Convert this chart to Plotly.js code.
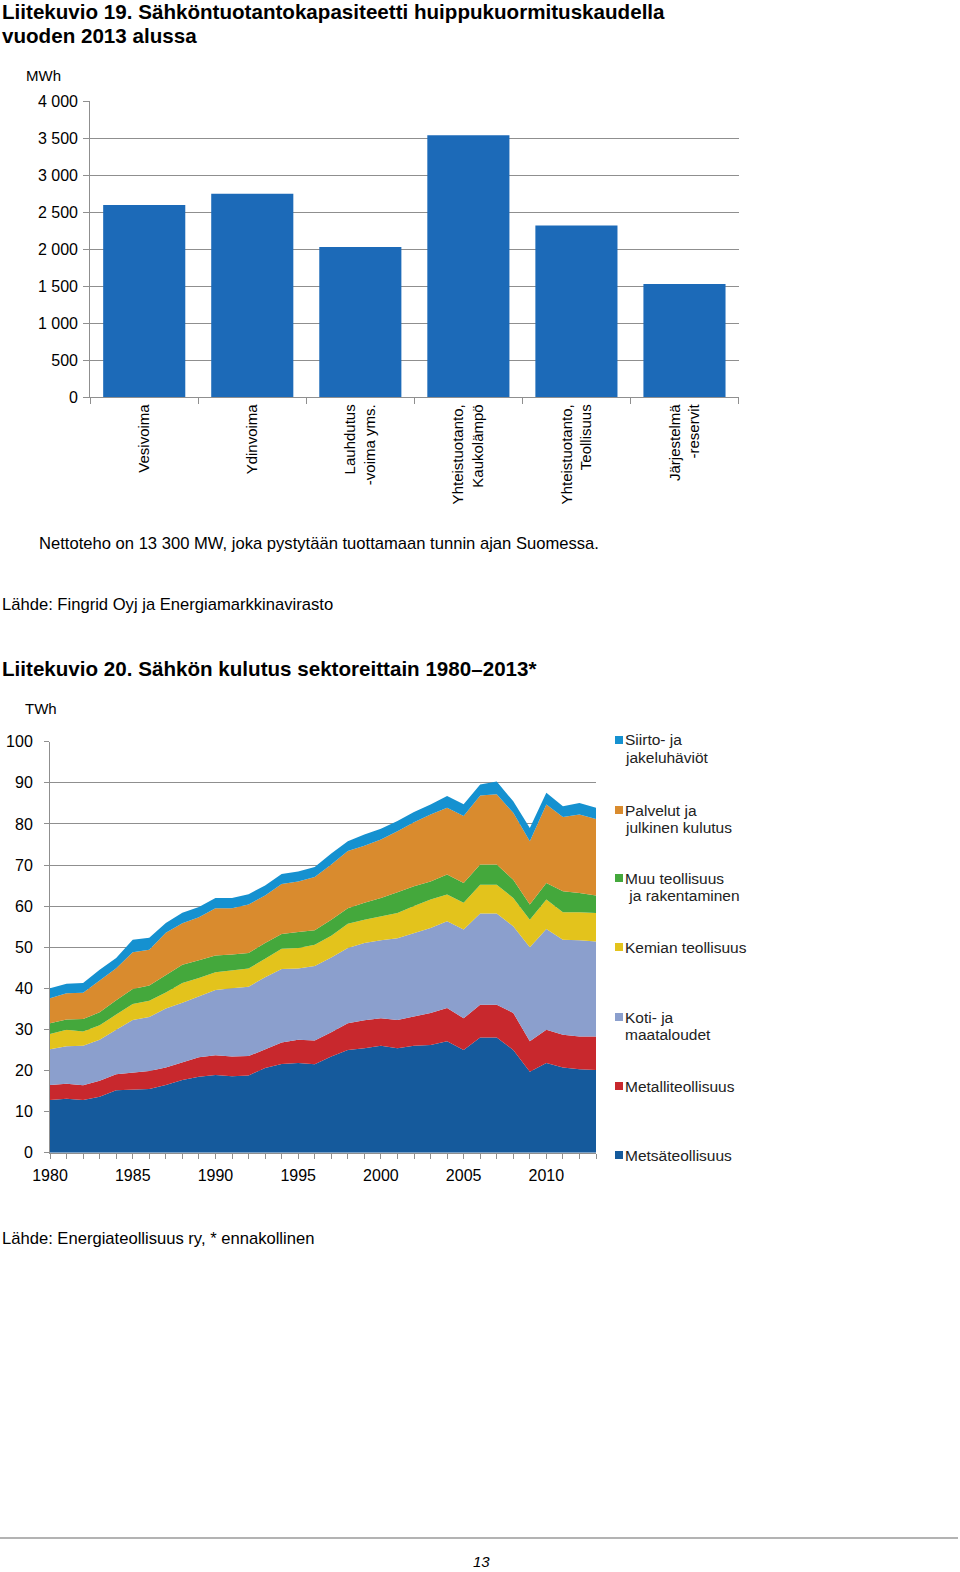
<!DOCTYPE html>
<html>
<head>
<meta charset="utf-8">
<script src="https://cdn.plot.ly/plotly-3.0.1.min.js"></script>
<style>
html,body{margin:0;padding:0;background:#fff;}
#chart{width:960px;height:1572px;}
</style>
</head>
<body>
<div id="chart"></div>
<script>
// ---------- Chart 1 data ----------
const capacityCategories = [
  "Vesivoima",
  "Ydinvoima",
  "Lauhdutus<br>-voima yms.",
  "Yhteistuotanto,<br>Kaukolämpö",
  "Yhteistuotanto,<br>Teollisuus",
  "Järjestelmä<br>-reservit"
];
const capacityValues = [2600, 2750, 2030, 3540, 2320, 1530];

// ---------- Chart 2 data (TWh) ----------
const years = [1980,1981,1982,1983,1984,1985,1986,1987,1988,1989,1990,1991,1992,1993,1994,1995,1996,
               1997,1998,1999,2000,2001,2002,2003,2004,2005,2006,2007,2008,2009,2010,2011,2012,2013];
const metsateollisuus = [12.8,13.1,12.8,13.6,15.2,15.3,15.5,16.5,17.7,18.5,18.9,18.6,18.8,20.6,21.6,21.8,21.5,
                         23.4,25.0,25.4,26.0,25.4,26.0,26.2,27.1,25.0,28.0,28.0,25.0,19.7,21.8,20.7,20.3,20.1];
const metalliteollisuus = [3.7,3.7,3.6,3.9,3.9,4.2,4.4,4.2,4.3,4.7,4.8,4.8,4.7,4.6,5.2,5.7,5.8,
                           5.9,6.5,6.8,6.7,6.9,7.1,7.8,8.1,7.7,8.0,8.0,9.0,7.4,8.1,8.0,8.0,8.2];
const kotiJaMaatalous = [8.7,9.1,9.6,10.0,10.8,12.8,13.1,14.4,14.5,14.8,15.9,16.6,16.9,17.5,17.9,17.3,18.1,
                         18.2,18.3,18.8,19.0,19.9,20.4,20.7,21.1,21.6,22.2,22.2,21.1,22.9,24.5,23.1,23.4,23.1];
const kemianteollisuus = [3.7,4.0,3.5,3.5,3.7,3.9,4.0,3.9,4.8,4.5,4.3,4.3,4.4,4.5,4.9,5.0,5.2,
                          5.3,5.9,5.7,5.8,6.1,6.5,6.9,6.5,6.5,7.0,7.0,6.9,6.7,7.2,6.7,6.8,6.9];
const muuTeollisuus = [2.6,2.5,3.0,3.2,3.5,3.6,3.7,4.1,4.4,4.3,4.1,3.9,3.8,3.8,3.6,3.9,3.5,
                       3.9,3.8,4.1,4.5,5.1,4.8,4.4,4.9,4.8,4.9,4.9,4.4,3.7,4.0,5.1,4.7,4.3];
const palvelut = [6.1,6.4,6.4,7.7,7.8,9.0,8.7,10.4,10.1,10.5,11.5,11.3,11.8,11.6,12.2,12.3,13.0,
                  13.4,13.9,13.9,14.2,14.8,15.6,16.3,16.2,16.3,16.8,17.1,16.3,15.4,19.1,18.1,19.1,18.6];
const siirtohaviot = [2.4,2.3,2.4,2.6,2.5,3.0,2.9,2.4,2.6,2.5,2.5,2.5,2.5,2.4,2.4,2.4,2.4,
                      2.7,2.4,2.7,2.6,2.5,2.5,2.4,2.9,2.9,2.7,3.1,2.8,3.2,2.9,2.6,2.8,2.7];

const seriesNames = ["Metsäteollisuus","Metalliteollisuus","Koti- ja maataloudet","Kemian teollisuus",
                     "Muu teollisuus ja rakentaminen","Palvelut ja julkinen kulutus","Siirto- ja jakeluhäviöt"];
const seriesData = [metsateollisuus, metalliteollisuus, kotiJaMaatalous, kemianteollisuus, muuTeollisuus, palvelut, siirtohaviot];
const seriesColors = ["#155A9C","#C8282D","#8B9FCD","#E3C31C","#44A83C","#D98B2E","#1591D0"];

// legend labels (as displayed, line by line)
const legendLabels = [
  ["Siirto- ja","jakeluhäviöt"],
  ["Palvelut ja","julkinen kulutus"],
  ["Muu teollisuus"," ja rakentaminen"],
  ["Kemian teollisuus"],
  ["Koti- ja","maataloudet"],
  ["Metalliteollisuus"],
  ["Metsäteollisuus"]
];
const legendColors = ["#1591D0","#D98B2E","#44A83C","#E3C31C","#8B9FCD","#C8282D","#155A9C"];

// ---------- helpers ----------
const W = 960, H = 1572;
const fx = x => x / W;
const fy = y => 1 - y / H;
const FONT = '"Liberation Sans", Arial, Helvetica, sans-serif';
const NARROW = '"Liberation Sans Narrow", "Liberation Sans", Arial, sans-serif';
const GRID = '#8f8f8f';

const traces = [];
traces.push({
  type: 'bar',
  x: capacityCategories,
  y: capacityValues,
  marker: {color: '#1C6AB8', line: {width: 0}},
  xaxis: 'x', yaxis: 'y',
  hoverinfo: 'x+y'
});
seriesData.forEach((vals, i) => {
  traces.push({
    type: 'scatter',
    mode: 'lines',
    x: years,
    y: vals,
    name: seriesNames[i],
    stackgroup: 'one',
    line: {width: 0, color: seriesColors[i]},
    fillcolor: seriesColors[i],
    xaxis: 'x2', yaxis: 'y2'
  });
});

const annotations = [];
function txt(text, x, y, opts) {
  annotations.push(Object.assign({
    text: text, xref: 'paper', yref: 'paper', x: fx(x), y: fy(y),
    xanchor: 'left', yanchor: 'middle', showarrow: false,
    font: {family: FONT, size: 15, color: '#000'}
  }, opts || {}));
}
// Titles
txt('<b>Liitekuvio 19. Sähköntuotantokapasiteetti huippukuormituskaudella</b>', 0, 11, {font:{family:FONT,size:20.6,color:'#000'}});
txt('<b>vuoden 2013 alussa</b>', 0, 35.5, {font:{family:FONT,size:20.6,color:'#000'}});
txt('MWh', 24, 75.5, {font:{family:NARROW,size:15,color:'#000'}});
txt('Nettoteho on 13 300 MW, joka pystytään tuottamaan tunnin ajan Suomessa.', 37, 543.5, {font:{family:NARROW,size:16.6,color:'#000'}});
txt('Lähde: Fingrid Oyj ja Energiamarkkinavirasto', 0, 604.5, {font:{family:FONT,size:16.6,color:'#000'}});
txt('<b>Liitekuvio 20. Sähkön kulutus sektoreittain 1980–2013*</b>', 0, 668.5, {font:{family:FONT,size:20.6,color:'#000'}});
txt('TWh', 23, 708, {font:{family:NARROW,size:15,color:'#000'}});
txt('Lähde: Energiateollisuus ry, * ennakollinen', 0, 1238, {font:{family:FONT,size:16.6,color:'#000'}});
txt('<i>13</i>', 481, 1561, {xanchor:'center', font:{family:FONT,size:15,color:'#000'}});

// Legend
const legendY = [740, 810, 878, 947, 1017, 1086, 1155];
const shapes = [];
legendLabels.forEach((lines, i) => {
  const y0 = legendY[i];
  shapes.push({type:'rect', xref:'paper', yref:'paper',
    x0: fx(615), x1: fx(623), y0: fy(y0 + 4), y1: fy(y0 - 4),
    fillcolor: legendColors[i], line:{width:0}});
  lines.forEach((ln, j) => {
    txt(ln, 623, y0 + j * 17.5, {font:{family:NARROW,size:15.5,color:'#222'}});
  });
});
// footer rule
shapes.push({type:'line', xref:'paper', yref:'paper', x0: 0, x1: fx(958), y0: fy(1538), y1: fy(1538),
  line:{color:'#9a9a9a', width:1.5}});

const layout = {
  width: W, height: H,
  margin: {l:0, r:0, t:0, b:0},
  paper_bgcolor: '#ffffff',
  plot_bgcolor: 'rgba(0,0,0,0)',
  showlegend: false,
  separators: ', ',
  font: {family: FONT, color: '#000'},
  bargap: 0.24,
  xaxis: {
    domain: [fx(90.2), fx(738.5)], anchor: 'y', type: 'category',
    tickson: 'boundaries', ticks: 'outside', ticklen: 6, tickcolor: GRID,
    showline: true, linecolor: GRID, linewidth: 1, showgrid: false,
    tickangle: -90, tickfont: {family: FONT, size: 15, color: '#000'},
    fixedrange: true
  },
  yaxis: {
    domain: [fy(397.3), fy(101.3)], anchor: 'x', range: [0, 4000], dtick: 500,
    tickformat: ',d', showgrid: true, gridcolor: GRID, gridwidth: 1,
    showline: true, linecolor: GRID, ticks: 'outside', ticklen: 6, tickcolor: GRID,
    zeroline: false, ticklabelstandoff: 2,
    tickfont: {family: NARROW, size: 16, color: '#000'}, fixedrange: true
  },
  xaxis2: {
    domain: [fx(50), fx(596)], anchor: 'y2', range: [1980, 2013],
    tick0: 1980, dtick: 5, ticks: 'outside', ticklen: 5, tickcolor: GRID,
    minor: {dtick: 1, ticks: 'outside', ticklen: 5, tickcolor: GRID, showgrid: false},
    showline: true, linecolor: GRID, showgrid: false, zeroline: false,
    ticklabelstandoff: 3,
    tickfont: {family: NARROW, size: 16, color: '#000'}, fixedrange: true
  },
  yaxis2: {
    domain: [fy(1152.7), fy(741.7)], anchor: 'x2', range: [0, 100], dtick: 10,
    showgrid: true, gridcolor: GRID, gridwidth: 1, zeroline: false,
    showline: true, linecolor: GRID, ticks: 'outside', ticklen: 5, tickcolor: GRID,
    ticklabelstandoff: 8,
    tickfont: {family: NARROW, size: 16, color: '#000'}, fixedrange: true
  },
  annotations: annotations,
  shapes: shapes
};

Plotly.newPlot('chart', traces, layout, {staticPlot: true, displayModeBar: false});
</script>
</body>
</html>
